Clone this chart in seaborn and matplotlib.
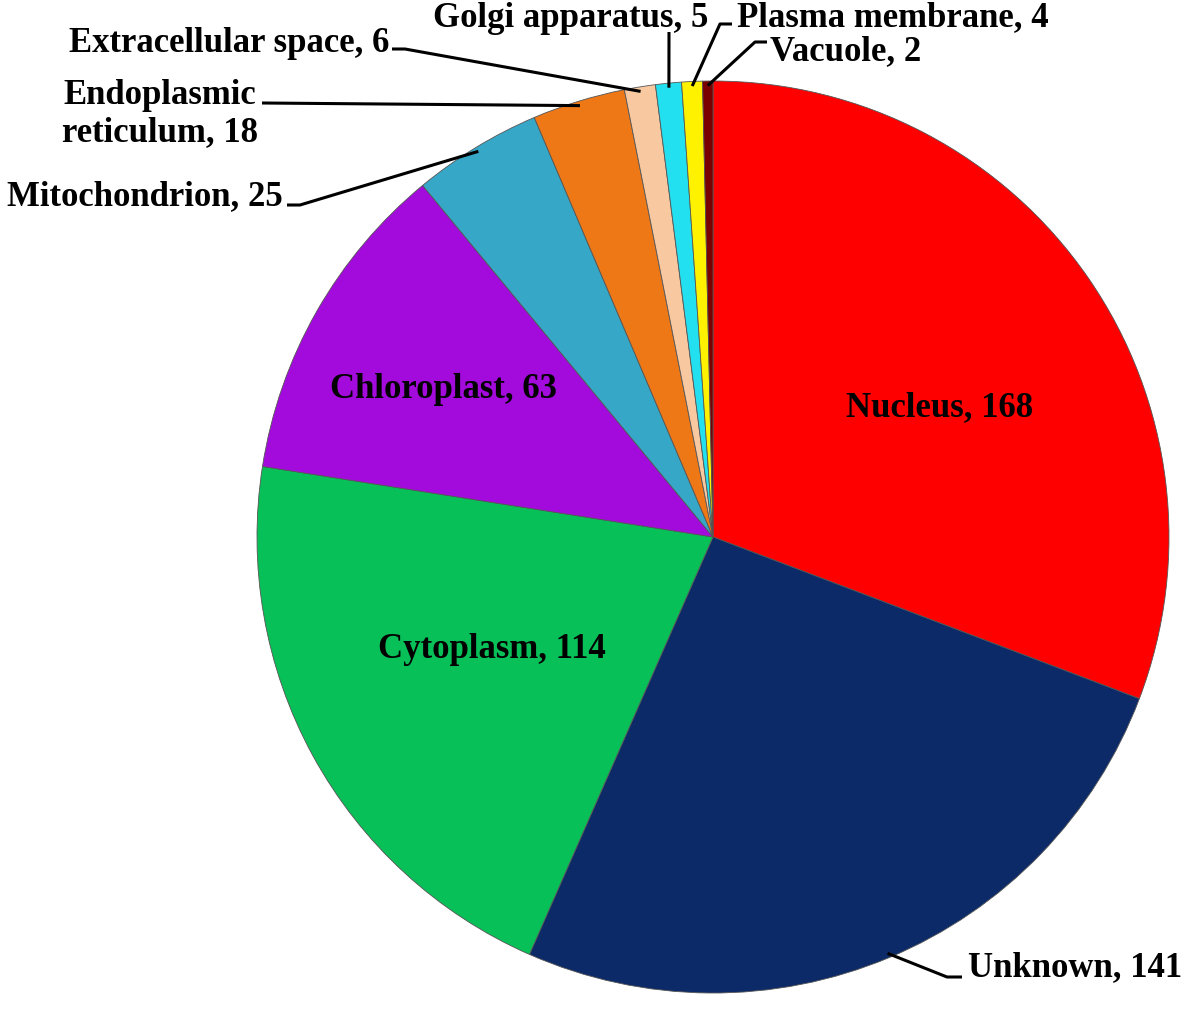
import matplotlib.pyplot as plt
import seaborn as sns
import numpy as np

# data
locations = ["Nucleus", "Unknown", "Cytoplasm", "Chloroplast", "Mitochondrion",
             "Endoplasmic\nreticulum", "Extracellular space", "Golgi apparatus",
             "Plasma membrane", "Vacuole"]
counts = [168, 141, 114, 63, 25, 18, 6, 5, 4, 2]
colors = ["#FF0000", "#0C2A68", "#08C058", "#A30BDC", "#37A7C8",
          "#EE7716", "#F8C8A0", "#22E0F0", "#FFF200", "#7A0000"]

sns.set_theme(style="white")
plt.rcParams['font.family'] = ['Liberation Serif', 'DejaVu Serif']

fig = plt.figure(figsize=(11.87, 10.12), dpi=100)
ax = fig.add_axes([0, 0, 1, 1])

cx, cy, r = 713, 538, 456
# y axis is flipped below, so counterclock=True draws clockwise on screen
wedges, _ = ax.pie(counts, colors=colors, startangle=-90, counterclock=True,
                   center=(cx, cy), radius=r,
                   wedgeprops=dict(edgecolor="#555555", linewidth=0.6))
ax.set_xlim(0, 1187)
ax.set_ylim(1012, 0)
ax.set_aspect('equal')
ax.axis('off')

font = dict(fontsize=25, fontweight='bold', color='black')

# labels inside the big slices
inside = {0: (940, 408), 2: (492, 650), 3: (444, 390)}
for i, (tx, ty) in inside.items():
    ax.text(tx, ty, f"{locations[i]}, {counts[i]}", ha='center', va='center', **font)

# outside labels: text position, alignment, leader path from text towards the slice
outside = {
    1: ((968, 968), 'left', [(962, 978), (947, 978)]),
    4: ((283, 197), 'right', [(287, 206), (300, 206)]),
    5: ((160, 114), 'center', [(262, 104)]),
    6: ((389, 43), 'right', [(392, 50), (405, 50)]),
    7: ((571, 18), 'center', [(669, 33)]),
    8: ((737, 18), 'left', [(720, 25), (732, 25)][::-1]),
    9: ((770, 52), 'left', [(767, 43), (755, 43)]),
}
for i, ((tx, ty), ha, path) in outside.items():
    w = wedges[i]
    mid = np.deg2rad((w.theta1 + w.theta2) / 2)
    px, py = cx + 0.99 * r * np.cos(mid), cy + 0.99 * r * np.sin(mid)
    xs = [p[0] for p in path] + [px]
    ys = [p[1] for p in path] + [py]
    ax.plot(xs, ys, color='black', lw=2.2, solid_capstyle='butt')
    ax.text(tx, ty, f"{locations[i]}, {counts[i]}", ha=ha, va='center',
            multialignment='center', linespacing=1.15, **font)

fig.savefig("out.png", dpi=100)
